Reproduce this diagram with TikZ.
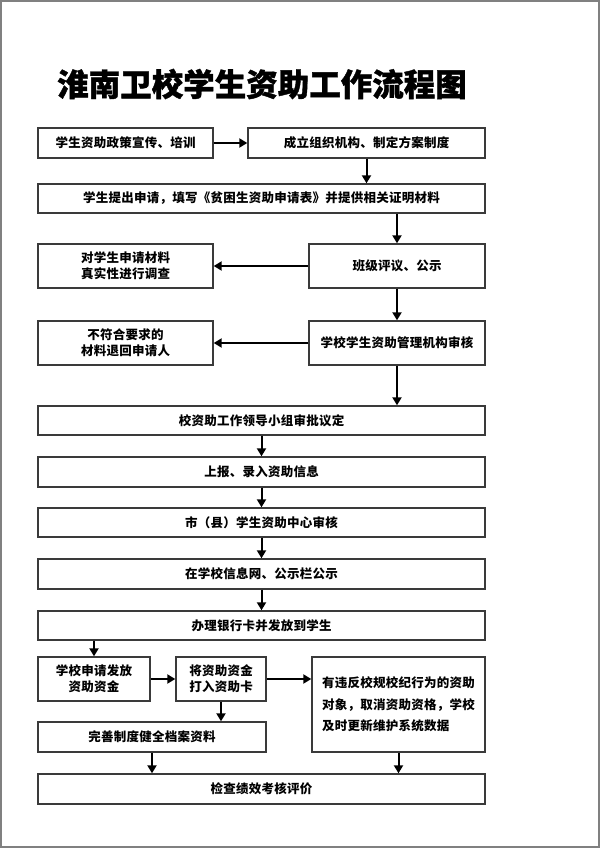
\documentclass[tikz,border=0pt]{standalone}
\usepackage{fontspec}
\usetikzlibrary{arrows.meta}
\newfontfamily\cjk[LetterSpace=2]{Noto Sans CJK SC}
\newfontfamily\cjktitle[BoldFeatures={FakeBold=1.2}]{Noto Sans CJK SC}
\definecolor{boxline}{HTML}{3A3A3A}
\definecolor{framegray}{HTML}{808080}
\tikzset{
  box/.style={draw=boxline, line width=1.4pt, rectangle, inner sep=0pt, align=center,
    font=\cjk\bfseries\fontsize{12.5pt}{16pt}\selectfont},
  arr/.style={draw=black, line width=2pt, -{Triangle[length=8pt,width=9pt]}},
}
\begin{document}
\begin{tikzpicture}[x=1pt,y=-1pt]
\useasboundingbox (0,0) rectangle (600,848);
\draw[framegray, line width=2pt] (1,1) rectangle (599,847);
\node[font=\cjktitle\bfseries\fontsize{31.5pt}{34pt}\selectfont] (title) at (262,84) {淮南卫校学生资助工作流程图};

\node[box, minimum width=175pt, minimum height=30pt] (b1) at (125.5,143) {学生资助政策宣传、培训};
\node[box, minimum width=237pt, minimum height=30pt] (b2) at (366.5,143) {成立组织机构、制定方案制度};
\node[box, minimum width=447pt, minimum height=29pt] (b3) at (261.5,198.5) {学生提出申请，填写《贫困生资助申请表》并提供相关证明材料};
\node[box, minimum width=175pt, minimum height=44pt] (b4L) at (125.5,266) {对学生申请材料\\真实性进行调查};
\node[box, minimum width=176pt, minimum height=44pt] (b4R) at (397,266) {班级评议、公示};
\node[box, minimum width=175pt, minimum height=44pt] (b5L) at (125.5,343) {不符合要求的\\材料退回申请人};
\node[box, minimum width=176pt, minimum height=44pt] (b5R) at (397,343) {学校学生资助管理机构审核};
\node[box, minimum width=447pt, minimum height=29pt] (b6) at (261.5,420.5) {校资助工作领导小组审批议定};
\node[box, minimum width=447pt, minimum height=30pt] (b7) at (261.5,472) {上报、录入资助信息};
\node[box, minimum width=447pt, minimum height=29pt] (b8) at (261.5,522.5) {市（县）学生资助中心审核};
\node[box, minimum width=447pt, minimum height=30pt] (b9) at (261.5,574) {在学校信息网、公示栏公示};
\node[box, minimum width=447pt, minimum height=29pt] (b10) at (261.5,625.5) {办理银行卡并发放到学生};
\node[box, minimum width=112pt, minimum height=44pt] (ba) at (94,679) {学校申请发放\\资助资金};
\node[box, minimum width=90pt, minimum height=44pt] (bb) at (221,679) {将资助资金\\打入资助卡};
\node[box, minimum width=173pt, minimum height=95pt, align=left, font=\cjk\bfseries\fontsize{12.5pt}{21.5pt}\selectfont] (bc) at (398.5,704.5) {有违反校规校纪行为的资助\\对象，取消资助资格，学校\\及时更新维护系统数据};
\node[box, minimum width=228pt, minimum height=30pt] (bd) at (152,737) {完善制度健全档案资料};
\node[box, minimum width=447pt, minimum height=30pt] (be) at (261.5,789) {检查绩效考核评价};

\draw[arr] (b1.east) -- (b2.west);
\draw[arr] (b2.south) -- (b2.south |- b3.north);
\draw[arr] (b4R.north |- b3.south) -- (b4R.north);
\draw[arr] (b4R.west) -- (b4L.east);
\draw[arr] (b4R.south) -- (b5R.north);
\draw[arr] (b5R.west) -- (b5L.east);
\draw[arr] (b5R.south) -- (b5R.south |- b6.north);
\draw[arr] (b6.south) -- (b7.north);
\draw[arr] (b7.south) -- (b8.north);
\draw[arr] (b8.south) -- (b9.north);
\draw[arr] (b9.south) -- (b10.north);
\draw[arr] (ba.north |- b10.south) -- (ba.north);
\draw[arr] (ba.east) -- (bb.west);
\draw[arr] (bb.east) -- (bb.east -| bc.west);
\draw[arr] (bb.south) -- (bb.south |- bd.north);
\draw[arr] (bd.south) -- (bd.south |- be.north);
\draw[arr] (bc.south) -- (bc.south |- be.north);
\end{tikzpicture}
\end{document}
